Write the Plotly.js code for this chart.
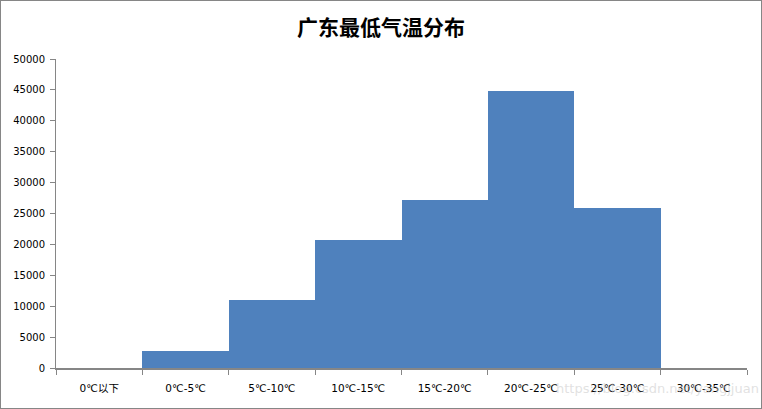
<!DOCTYPE html>
<html>
<head>
<meta charset="utf-8">
<script src="https://cdn.plot.ly/plotly-3.0.1.min.js"></script>
<style>
html,body{margin:0;padding:0;background:#fff;}
#chart{width:760px;height:407px;border:1px solid #868686;}
</style>
</head>
<body>
<div id="chart"></div>
<script>
const categories = ["0℃以下","0℃-5℃","5℃-10℃","10℃-15℃","15℃-20℃","20℃-25℃","25℃-30℃","30℃-35℃"];
const counts = [0, 2750, 11000, 20700, 27180, 44820, 25890, 0];
const yTicks = [0,5000,10000,15000,20000,25000,30000,35000,40000,45000,50000];
const yTickLabels = ["0","5000","10000","15000","20000","25000","30000","35000","40000","45000","50000"];
const titleText = "广东最低气温分布";

const trace = {
  type: "bar",
  x: categories,
  y: counts,
  marker: {color: "#4F81BD", line: {width: 0}},
  hoverinfo: "x+y"
};

const layout = {
  width: 760, height: 407,
  margin: {l: 55, r: 14, t: 58, b: 40},
  paper_bgcolor: "#fff",
  plot_bgcolor: "#fff",
  bargap: 0,
  showlegend: false,
  font: {family: "DejaVu Sans, 'Noto Sans CJK SC', sans-serif", size: 10, color: "#000"},
  title: {
    text: "<b>" + titleText + "</b>",
    x: 0.5, xanchor: "center",
    y: 0.935, yanchor: "middle",
    font: {family: "'Noto Sans CJK SC', sans-serif", size: 21, color: "#000"}
  },
  xaxis: {
    type: "category",
    showline: true, linecolor: "#868686", linewidth: 2,
    ticks: "outside", tickson: "boundaries", ticklen: 5, tickcolor: "#868686",
    ticklabelstandoff: 9,
    showgrid: false, zeroline: false,
    tickfont: {family: "DejaVu Sans, 'Noto Sans CJK SC', sans-serif", size: 10.5, color: "#000"},
    fixedrange: true
  },
  yaxis: {
    range: [0, 50000],
    tickvals: yTicks,
    ticktext: yTickLabels,
    showline: true, linecolor: "#868686", linewidth: 1,
    ticks: "outside", ticklen: 5, tickcolor: "#868686",
    ticklabelstandoff: 3,
    showgrid: false, zeroline: false,
    tickfont: {family: "DejaVu Sans, sans-serif", size: 10, color: "#000"},
    fixedrange: true
  },
  annotations: [{
    text: "https://blog.csdn.net/yangjjuan",
    xref: "paper", yref: "paper",
    x: 1.02, y: -0.065, xanchor: "right", yanchor: "middle",
    showarrow: false,
    font: {family: "DejaVu Sans, sans-serif", size: 13, color: "rgba(200,200,200,0.55)"}
  }]
};

Plotly.newPlot("chart", [trace], layout, {displayModeBar: false, staticPlot: true});
</script>
</body>
</html>
